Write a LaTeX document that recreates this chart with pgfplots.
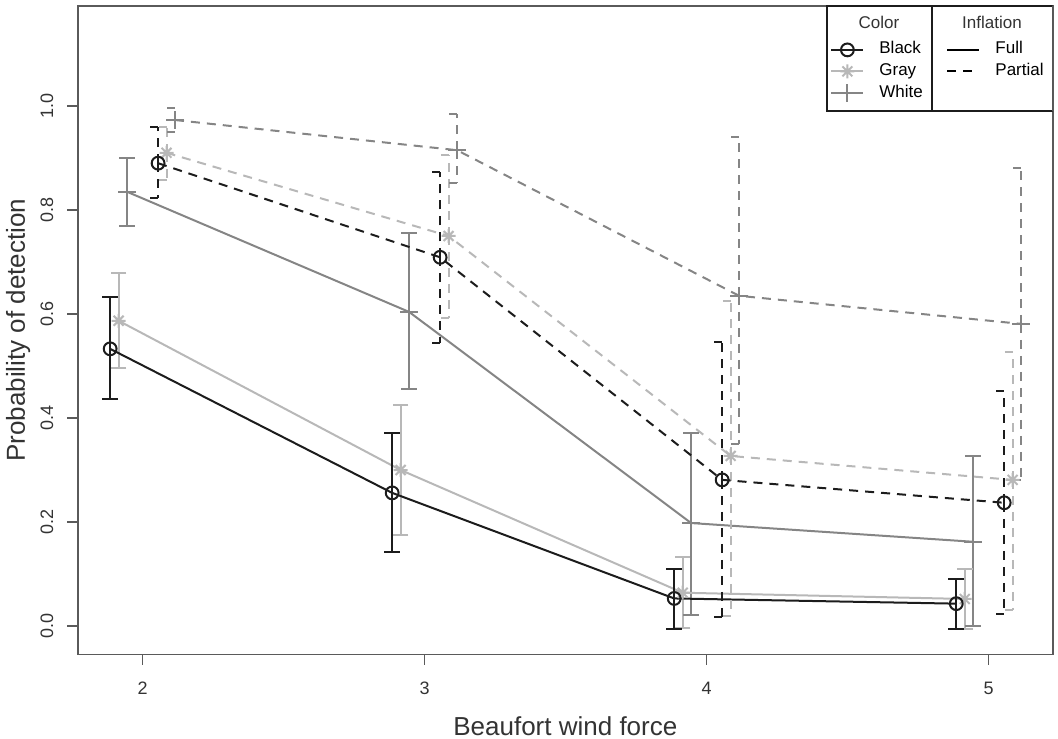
\documentclass[border=0pt]{standalone}
\usepackage{pgfplots}
\pgfplotsset{compat=1.18}
\usepackage{pgfplotstable}
\usepackage{fontspec}
\setmainfont{Liberation Sans}

\definecolor{cBlack}{HTML}{1C1C1C}
\definecolor{cGray}{HTML}{B8B8B8}
\definecolor{cWhite}{HTML}{858585}
\definecolor{axc}{HTML}{5A5A5A}
\definecolor{txtc}{HTML}{333333}

% R-style asterisk (pch 8), a cap that only reaches to the left, and no mark
\pgfdeclareplotmark{rast}{%
  \pgfpathmoveto{\pgfqpoint{-\pgfplotmarksize}{0pt}}\pgfpathlineto{\pgfqpoint{\pgfplotmarksize}{0pt}}%
  \pgfpathmoveto{\pgfqpoint{0pt}{-\pgfplotmarksize}}\pgfpathlineto{\pgfqpoint{0pt}{\pgfplotmarksize}}%
  \pgfpathmoveto{\pgfqpoint{-.707\pgfplotmarksize}{-.707\pgfplotmarksize}}\pgfpathlineto{\pgfqpoint{.707\pgfplotmarksize}{.707\pgfplotmarksize}}%
  \pgfpathmoveto{\pgfqpoint{-.707\pgfplotmarksize}{.707\pgfplotmarksize}}\pgfpathlineto{\pgfqpoint{.707\pgfplotmarksize}{-.707\pgfplotmarksize}}%
  \pgfusepathqstroke}
\pgfdeclareplotmark{halfcap}{%
  \pgfpathmoveto{\pgfqpoint{-\pgfplotmarksize}{0pt}}\pgfpathlineto{\pgfqpoint{0pt}{0pt}}%
  \pgfusepathqstroke}
\pgfdeclareplotmark{nil}{}

% full inflation
\pgfplotstableread{
x     y     lo     hi
1.885 0.533 0.436  0.632
2.885 0.256 0.143  0.371
3.885 0.053 -0.005 0.110
4.885 0.043 -0.006 0.090
}\BF
\pgfplotstableread{
x     y     lo     hi
1.915 0.587 0.496  0.679
2.915 0.300 0.175  0.425
3.915 0.064 -0.004 0.133
4.915 0.052 -0.005 0.110
}\GF
\pgfplotstableread{
x     y     lo     hi
1.945 0.835 0.770  0.900
2.945 0.604 0.455  0.755
3.945 0.198 0.021  0.372
4.945 0.162 0.000  0.326
}\WF
% partial inflation
\pgfplotstableread{
x     y     lo     hi
2.055 0.890 0.823  0.959
3.055 0.709 0.544  0.874
4.055 0.281 0.017  0.547
5.055 0.237 0.023  0.452
}\BP
\pgfplotstableread{
x     y     lo     hi
2.085 0.910 0.858  0.960
3.085 0.750 0.592  0.905
4.085 0.327 0.020  0.625
5.085 0.281 0.030  0.527
}\GP
\pgfplotstableread{
x     y     lo     hi
2.115 0.973 0.950  0.996
3.115 0.915 0.852  0.985
4.115 0.635 0.350  0.941
5.115 0.581 0.281  0.881
}\WP

\pgfplotsset{
  full/.style={line width=1pt, mark options={solid, line width=1pt},
    error bars/y dir=both, error bars/y explicit, error bars/error mark=nil,
    error bars/error bar style={solid, line width=1pt}},
  part/.style={line width=1pt, dash pattern=on 4.5pt off 3.5pt,
    mark options={solid, line width=1pt},
    error bars/y dir=both, error bars/y explicit, error bars/error mark=nil,
    error bars/error bar style={line width=1pt, dash pattern=on 4.5pt off 3.5pt}},
  fcap/.style={only marks, mark=-, mark size=3.9pt, mark options={solid, line width=1pt}, forget plot},
  hcap/.style={only marks, mark=halfcap, mark size=3.9pt, mark options={solid, line width=1pt}, forget plot},
}

\begin{document}
\begin{tikzpicture}
\useasboundingbox (-39pt,-41.85pt) rectangle (490pt,327.15pt);
\begin{axis}[
    scale only axis,
    width=487.35pt, height=324.15pt,
    xmin=1.771, xmax=5.227, ymin=-0.0544, ymax=1.1923,
    axis line style={axc, line width=0.8pt},
    tick style={axc, line width=0.8pt},
    tick align=outside, tick pos=left,
    major tick length=5.3pt,
    xtick={2,3,4,5}, xticklabels={2,3,4,5},
    ytick={0,0.2,0.4,0.6,0.8,1}, yticklabels={0.0,0.2,0.4,0.6,0.8,1.0},
    ticklabel style={font=\fontsize{9}{10}\selectfont, text=txtc},
    xticklabel style={anchor=north, inner sep=0pt, outer ysep=8.5pt},
    yticklabel style={rotate=90, anchor=south, inner sep=0pt, outer ysep=7pt},
    xlabel={Beaufort wind force},
    ylabel={Probability of detection},
    every axis x label/.style={at={(axis description cs:0.5,-0.1249)}, anchor=base,
      font=\fontsize{13}{15}\selectfont, text=txtc},
    every axis y label/.style={at={(axis description cs:-0.0544,0.5)}, rotate=90, anchor=base,
      font=\fontsize{13}{15}\selectfont, text=txtc},
    legend columns=2,
    legend cell align=left,
    legend style={draw=none, fill=none, at={(axis description cs:0.7715,0.946)},
      anchor=north west, inner sep=0pt, font=\fontsize{8.5}{10}\selectfont,
      row sep=2.25pt, nodes={inner sep=0pt, text height=6.2pt, text depth=2.3pt},
      /tikz/every odd column/.append style={column sep=7.5pt},
      /tikz/every even column/.append style={column sep=11.8pt}},
    legend image code/.code={\draw[mark repeat=2, mark phase=2, #1]
      plot coordinates {(0pt,0pt) (8pt,0pt) (16pt,0pt)};},
]
% full inflation: bars, lines, points
\addplot[cWhite, full, mark=+, mark size=4.5pt, forget plot] table[x=x, y=y,
  y error plus expr=\thisrow{hi}-\thisrow{y}, y error minus expr=\thisrow{y}-\thisrow{lo}] {\WF};
\addplot[cWhite, fcap] table[x=x, y=hi] {\WF};
\addplot[cWhite, fcap] table[x=x, y=lo] {\WF};
\addplot[cGray, full, mark=rast, mark size=3.5pt, forget plot] table[x=x, y=y,
  y error plus expr=\thisrow{hi}-\thisrow{y}, y error minus expr=\thisrow{y}-\thisrow{lo}] {\GF};
\addplot[cGray, fcap] table[x=x, y=hi] {\GF};
\addplot[cGray, fcap] table[x=x, y=lo] {\GF};
\addplot[cBlack, full, mark=o, mark size=3.2pt, forget plot] table[x=x, y=y,
  y error plus expr=\thisrow{hi}-\thisrow{y}, y error minus expr=\thisrow{y}-\thisrow{lo}] {\BF};
\addplot[cBlack, fcap] table[x=x, y=hi] {\BF};
\addplot[cBlack, fcap] table[x=x, y=lo] {\BF};
% partial inflation
\addplot[cWhite, part, mark=+, mark size=4.5pt, forget plot] table[x=x, y=y,
  y error plus expr=\thisrow{hi}-\thisrow{y}, y error minus expr=\thisrow{y}-\thisrow{lo}] {\WP};
\addplot[cWhite, hcap] table[x=x, y=hi] {\WP};
\addplot[cWhite, hcap] table[x=x, y=lo] {\WP};
\addplot[cGray, part, mark=rast, mark size=3.5pt, forget plot] table[x=x, y=y,
  y error plus expr=\thisrow{hi}-\thisrow{y}, y error minus expr=\thisrow{y}-\thisrow{lo}] {\GP};
\addplot[cGray, hcap] table[x=x, y=hi] {\GP};
\addplot[cGray, hcap] table[x=x, y=lo] {\GP};
\addplot[cBlack, part, mark=o, mark size=3.2pt, forget plot] table[x=x, y=y,
  y error plus expr=\thisrow{hi}-\thisrow{y}, y error minus expr=\thisrow{y}-\thisrow{lo}] {\BP};
\addplot[cBlack, hcap] table[x=x, y=hi] {\BP};
\addplot[cBlack, hcap] table[x=x, y=lo] {\BP};

% legend frame and titles
\draw[cBlack, line width=0.8pt, fill=white] (axis description cs:0.7684,1) rectangle (axis description cs:1,0.838);
\draw[cBlack, line width=0.8pt] (axis description cs:0.8762,1) -- (axis description cs:0.8762,0.838);
\node[font=\fontsize{8.5}{10}\selectfont, text=txtc] at (axis description cs:0.8218,0.9753) {Color};
\node[font=\fontsize{8.5}{10}\selectfont, text=txtc] at (axis description cs:0.9377,0.9753) {Inflation};

\addlegendimage{cBlack, line width=1pt, mark=o, mark size=3.2pt}
\addlegendentry{Black}
\addlegendimage{black, line width=1pt}
\addlegendentry{Full}
\addlegendimage{cGray, line width=1pt, mark=rast, mark size=3.5pt}
\addlegendentry{Gray}
\addlegendimage{black, line width=1pt, dash pattern=on 4.5pt off 3.5pt}
\addlegendentry{Partial}
\addlegendimage{cWhite, line width=1pt, mark=+, mark size=4.5pt}
\addlegendentry{White}
\end{axis}
\end{tikzpicture}
\end{document}
